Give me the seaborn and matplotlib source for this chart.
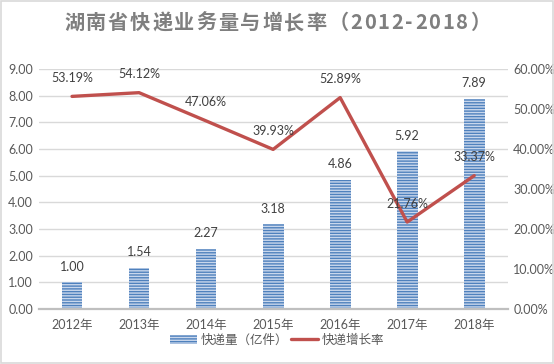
import numpy as np
import pandas as pd
import matplotlib
matplotlib.use("Agg")
import matplotlib.pyplot as plt
import seaborn as sns
from matplotlib.patches import Patch, Rectangle
from matplotlib.lines import Line2D
from matplotlib.ticker import FuncFormatter

# data
years = ["2012年", "2013年", "2014年", "2015年", "2016年", "2017年", "2018年"]
volume = [1.00, 1.54, 2.27, 3.18, 4.86, 5.92, 7.89]          # 亿件
growth = [53.19, 54.12, 47.06, 39.93, 52.89, 21.76, 33.37]   # %
title = '湖南省快递业务量与增长率（2012-2018）'

sns.set_theme(style="white")
plt.rcParams['font.family'] = ['Lato', 'Noto Sans CJK SC', 'DejaVu Sans']
plt.rcParams['hatch.linewidth'] = 1.0

BAR_BLUE = '#4F81BD'
STRIPE = '#C9D7EC'
LINE_RED = '#C0504D'
TXT = '#595959'
GRID = '#D9D9D9'
CJK = ['Noto Sans CJK SC', 'DejaVu Sans']

df = pd.DataFrame({'year': years, 'volume': volume, 'growth': growth})

fig = plt.figure(figsize=(5.54, 3.64), dpi=100)
ax = fig.add_axes([0.0695, 0.151, 0.847, 0.659])

sns.barplot(data=df, x='year', y='volume', color=BAR_BLUE, width=0.31,
            saturation=1, ax=ax, zorder=2)
for bar in ax.patches:
    bar.set_hatch('------')
    bar.set_edgecolor(STRIPE)
    bar.set_linewidth(0)
ax.bar_label(ax.containers[0], fmt='%.2f', padding=7, fontsize=9, color='#404040')

ax.set_ylim(0, 9)
ax.set_yticks(np.arange(0, 10, 1))
ax.yaxis.set_major_formatter(FuncFormatter(lambda v, p: f"{v:.2f}"))
ax.set_xlim(-0.5, len(years) - 0.5)
ax.set_xlabel('')
ax.set_ylabel('')
ax.grid(axis='y', color=GRID, linewidth=1, zorder=0)
ax.set_axisbelow(True)
for s in ['top', 'right', 'left']:
    ax.spines[s].set_visible(False)
ax.spines['bottom'].set_color('#BFBFBF')
ax.spines['bottom'].set_linewidth(1.6)
ax.tick_params(axis='y', length=0, labelsize=9, labelcolor=TXT, pad=4)
ax.tick_params(axis='x', length=4, color='#BFBFBF', labelsize=9, labelcolor=TXT, pad=3)

# growth rate on the secondary axis
ax2 = ax.twinx()
x_idx = np.arange(len(years))
sns.lineplot(x=x_idx, y=df['growth'] / 100, color=LINE_RED, linewidth=2.4,
             ax=ax2, zorder=3)
for xi, g in zip(x_idx, growth):
    ax2.annotate(f"{g:.2f}%", (xi, g / 100), textcoords='offset points',
                 xytext=(0, 9), ha='center', va='bottom', fontsize=9, color='#404040')
ax2.set_ylim(0, 0.6)
ax2.set_yticks(np.arange(0, 0.61, 0.1))
ax2.yaxis.set_major_formatter(FuncFormatter(lambda v, p: f"{v * 100:.2f}%"))
ax2.set_ylabel('')
for s in ['top', 'right', 'left', 'bottom']:
    ax2.spines[s].set_visible(False)
ax2.tick_params(axis='y', length=0, labelsize=9, labelcolor=TXT, pad=4)

# letter-spaced title (the spreadsheet title has wide character spacing)
renderer = fig.canvas.get_renderer()
W = fig.get_figwidth() * fig.dpi
target_w = 426.0
chars = []
for ch in title:
    t = fig.text(0, 0.938, ch, fontsize=14.5, fontweight='bold', color='#7F7F7F',
                 family=CJK, va='center', ha='left')
    chars.append((t, t.get_window_extent(renderer).width))
base_w = sum(w for _, w in chars)
gap = (target_w - base_w) / (len(chars) - 1)
x = (W - target_w) / 2
for t, w in chars:
    t.set_x(x / W)
    x += w + gap

handles = [
    Patch(facecolor=BAR_BLUE, edgecolor=STRIPE, hatch='------', linewidth=0),
    Line2D([0], [0], color=LINE_RED, linewidth=2.4),
]
fig.legend(handles, ['快递量（亿件）', '快递增长率'], loc='center',
           bbox_to_anchor=(0.5, 0.065), ncol=2, frameon=False,
           labelcolor=TXT, handlelength=2.2, handletextpad=0.3, columnspacing=0.2,
           prop={'family': CJK, 'size': 9})

# light chart border like the spreadsheet frame
fig.patches.append(Rectangle((0.002, 0.003), 0.996, 0.994, transform=fig.transFigure,
                             fill=False, edgecolor='#D9D9D9', linewidth=1.2))

fig.savefig('out.png', dpi=100)
